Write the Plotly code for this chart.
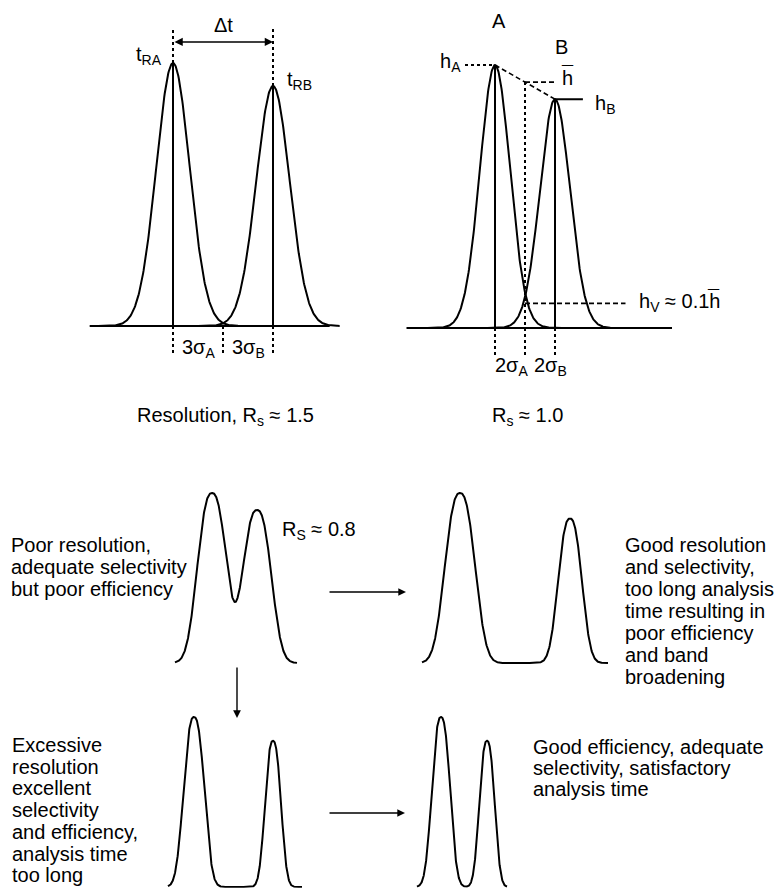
import numpy as np
import plotly.graph_objects as go

W, H = 779, 888

# ---------------- data ----------------
# Top-left: Resolution Rs ~ 1.5
p1_tR = [5.0, 8.0]
p1_h = [1.0, 0.913]
p1_sigma = [0.5, 0.5]
p1_base = [2.5, 9.7]

# Top-right: Rs ~ 1.0
p2_tR = [5.0, 7.0]
p2_h = [1.0, 0.87]
p2_sigma = [0.5, 0.5]
p2_base = [2.05, 10.9]

# Bottom schematic chromatograms (centres, heights, widths, drawn span)
poor_centers = [4.7, 9.2]
poor_heights = [1.0, 0.9]
poor_widths = [1.4, 1.38]
poor_span = [1.0, 13.2]

long_centers = [5.0, 16.0]
long_heights = [1.0, 0.85]
long_widths = [1.45, 1.14]
long_span = [1.2, 19.8]

excess_centers = [3.4, 11.3]
excess_heights = [1.0, 0.86]
excess_widths = [1.0, 0.77]
excess_span = [0.8, 14.2]

good_centers = [3.1, 7.7]
good_heights = [1.0, 0.86]
good_widths = [0.88, 0.74]
good_span = [0.7, 9.7]

poor_text = ["Poor resolution,", "adequate selectivity", "but poor efficiency"]
long_text = ["Good resolution", "and selectivity,", "too long analysis", "time resulting in",
             "poor efficiency", "and band", "broadening"]
excess_text = ["Excessive", "resolution", "excellent", "selectivity", "and efficiency,",
               "analysis time", "too long"]
good_text = ["Good efficiency, adequate", "selectivity, satisfactory", "analysis time"]

# ---------------- layout helpers ----------------
FONT = "Liberation Sans, Arial, DejaVu Sans"
panels = {
    1: dict(xr=[2, 10], x0px=73, kx=100 / 3, yr=[-0.35, 1.22], base=326, ky=263),
    2: dict(xr=[1.5, 13.5], x0px=390, kx=30, yr=[-0.35, 1.22], base=328, ky=263),
    3: dict(xr=[0, 15], x0px=165, kx=10, yr=[-0.03, 1.12], base=663, ky=170),
    4: dict(xr=[0, 21], x0px=410, kx=10, yr=[-0.03, 1.12], base=663, ky=170),
    5: dict(xr=[0, 15], x0px=160, kx=10, yr=[-0.005, 1.12], base=887, ky=170),
    6: dict(xr=[0, 11], x0px=410, kx=10, yr=[-0.005, 1.12], base=887, ky=170),
}

fig = go.Figure()
layout_axes = {}
for k, p in panels.items():
    xs = "" if k == 1 else str(k)
    xd0 = p["x0px"] / W
    xd1 = (p["x0px"] + (p["xr"][1] - p["xr"][0]) * p["kx"]) / W
    yd0 = 1 - (p["base"] - p["yr"][0] * p["ky"]) / H
    yd1 = 1 - (p["base"] - p["yr"][1] * p["ky"]) / H
    layout_axes["xaxis" + xs] = dict(domain=[max(0, xd0), min(1, xd1)], range=p["xr"],
                                     visible=False, anchor="y" + xs, fixedrange=True)
    layout_axes["yaxis" + xs] = dict(domain=[max(0, yd0), min(1, yd1)], range=p["yr"],
                                     visible=False, anchor="x" + xs, fixedrange=True)


def ax(k):
    s = "" if k == 1 else str(k)
    return "x" + s, "y" + s


def line(k, xs, ys, dash="solid", width=2):
    xa, ya = ax(k)
    fig.add_trace(go.Scatter(x=xs, y=ys, mode="lines", xaxis=xa, yaxis=ya,
                             line=dict(color="black", width=width, dash=dash),
                             showlegend=False, hoverinfo="skip"))


def peak(t, c, h, s, p=2.0):
    return h * np.exp(-0.5 * np.abs((t - c) / s) ** p)


annotations = []


def label(k, x, y, text, xanchor="center", size=20, yshift=0):
    xa, ya = ax(k)
    annotations.append(dict(x=x, y=y, xref=xa, yref=ya, text=text, showarrow=False,
                            xanchor=xanchor, yanchor="middle", yshift=yshift,
                            font=dict(family=FONT, size=size, color="black")))


def ptext(xpx, ypx, text, xanchor="left", size=20):
    annotations.append(dict(x=xpx / W, y=1 - ypx / H, xref="paper", yref="paper",
                            text=text, showarrow=False, xanchor=xanchor, yanchor="middle",
                            font=dict(family=FONT, size=size, color="black")))


def parrow(x_tip, y_tip, dx, dy):
    annotations.append(dict(x=x_tip / W, y=1 - y_tip / H, xref="paper", yref="paper",
                            ax=dx, ay=dy, text="", showarrow=True, arrowhead=2,
                            arrowsize=1.1, arrowwidth=1.4, arrowcolor="black", standoff=0))


DOT = "3px,3px"
DASH = "5px,3px"

# ---------------- panel 1 ----------------
line(1, p1_base, [0, 0])
for c, h, s in zip(p1_tR, p1_h, p1_sigma):
    t = np.linspace(c - 4.5 * s, c + 4.5 * s, 300)
    line(1, t, peak(t, c, h, s))
    line(1, [c, c], [0, h])
    line(1, [c, c], [h, 1.133], dash=DOT)
valley1 = p1_tR[0] + 3 * p1_sigma[0]
for xv in [p1_tR[0], valley1, p1_tR[1]]:
    line(1, [xv, xv], [0, -0.11], dash=DOT)
xa, ya = ax(1)
annotations.append(dict(x=p1_tR[1], y=1.08, ax=p1_tR[0], ay=1.08, xref=xa, yref=ya,
                        axref=xa, ayref=ya, text="", showarrow=True, arrowhead=2,
                        arrowside="end+start", arrowsize=1.1, arrowwidth=1.5,
                        arrowcolor="black", standoff=0, startstandoff=0))
label(1, np.mean(p1_tR), 1.145, "Δt")
label(1, p1_tR[0] - 0.72, 1.03, "t<sub>RA</sub>")
label(1, p1_tR[1] + 0.78, 0.935, "t<sub>RB</sub>")
label(1, (p1_tR[0] + valley1) / 2, -0.084, "3σ<sub>A</sub>")
label(1, (valley1 + p1_tR[1]) / 2, -0.084, "3σ<sub>B</sub>")
ptext(135, 417, "Resolution, R<sub>s</sub> ≈ 1.5")

# ---------------- panel 2 ----------------
line(2, p2_base, [0, 0])
for c, h, s in zip(p2_tR, p2_h, p2_sigma):
    t = np.linspace(c - 4.5 * s, c + 4.5 * s, 300)
    line(2, t, peak(t, c, h, s))
    line(2, [c, c], [0, h])
    line(2, [c, c], [0, -0.11], dash=DOT)
hbar = (p2_h[0] + p2_h[1]) / 2
hv = 0.1 * hbar
tmid = (p2_tR[0] + p2_tR[1]) / 2
line(2, [p2_tR[0] - 1.0, p2_tR[0]], [p2_h[0], p2_h[0]], dash=DOT)
line(2, p2_tR, p2_h, dash=DASH, width=1.6)
line(2, [tmid, p2_tR[1]], [hbar, hbar], dash=DASH, width=1.6)
line(2, [tmid, tmid], [hbar, -0.11], dash=DOT)
line(2, [p2_tR[1], p2_tR[1] + 0.93], [p2_h[1], p2_h[1]])
line(2, [tmid, tmid + 3.35], [hv, hv], dash=DASH, width=1.6)
label(2, p2_tR[0] + 0.12, 1.167, "A")
label(2, p2_tR[1] + 0.2, 1.068, "B")
label(2, p2_tR[0] - 1.07, 1.008, "h<sub>A</sub>", xanchor="right")
label(2, p2_tR[1] + 0.4, 0.95, "h")
label(2, p2_tR[1] + 0.4, 0.95, "¯", yshift=5)
label(2, p2_tR[1] + 1.27, 0.85, "h<sub>B</sub>", xanchor="left")
hv_x = tmid + 3.7
hv_right = hv_x + 2.87
label(2, hv_right, hv + 0.005, "h<sub>V</sub> ≈ 0.1h", xanchor="right")
label(2, hv_right, hv + 0.005, "¯", xanchor="right", yshift=5)
label(2, p2_tR[0] - 0.07, -0.148, "2σ<sub>A</sub>", xanchor="left")
label(2, tmid + 0.23, -0.148, "2σ<sub>B</sub>", xanchor="left")
ptext(490, 417, "R<sub>s</sub> ≈ 1.0")

# ---------------- bottom panels ----------------
for k, cs, hs, ws, span in [
    (3, poor_centers, poor_heights, poor_widths, poor_span),
    (4, long_centers, long_heights, long_widths, long_span),
    (5, excess_centers, excess_heights, excess_widths, excess_span),
    (6, good_centers, good_heights, good_widths, good_span),
]:
    t = np.linspace(span[0], span[1], 600)
    y = sum(peak(t, c, h, s, 2.5) for c, h, s in zip(cs, hs, ws))
    line(k, t, y)

ptext(280, 530, "R<sub>S</sub> ≈ 0.8")
for i, s in enumerate(poor_text):
    ptext(9, 545 + 22 * i, s)
for i, s in enumerate(long_text):
    ptext(623, 545 + 22 * i, s)
for i, s in enumerate(excess_text):
    ptext(10, 745 + 21.7 * i, s)
for i, s in enumerate(good_text):
    ptext(531, 747 + 21 * i, s)

parrow(406, 592, -78, 0)
parrow(405, 813, -77, 0)
parrow(237, 718, 0, -52)

fig.update_layout(width=W, height=H, margin=dict(l=0, r=0, t=0, b=0),
                  paper_bgcolor="white", plot_bgcolor="rgba(0,0,0,0)",
                  annotations=annotations, showlegend=False, **layout_axes)

fig.write_html("out.html", config={"displayModeBar": False},
               post_script="document.body.style.margin='0';document.body.style.padding='0';")
